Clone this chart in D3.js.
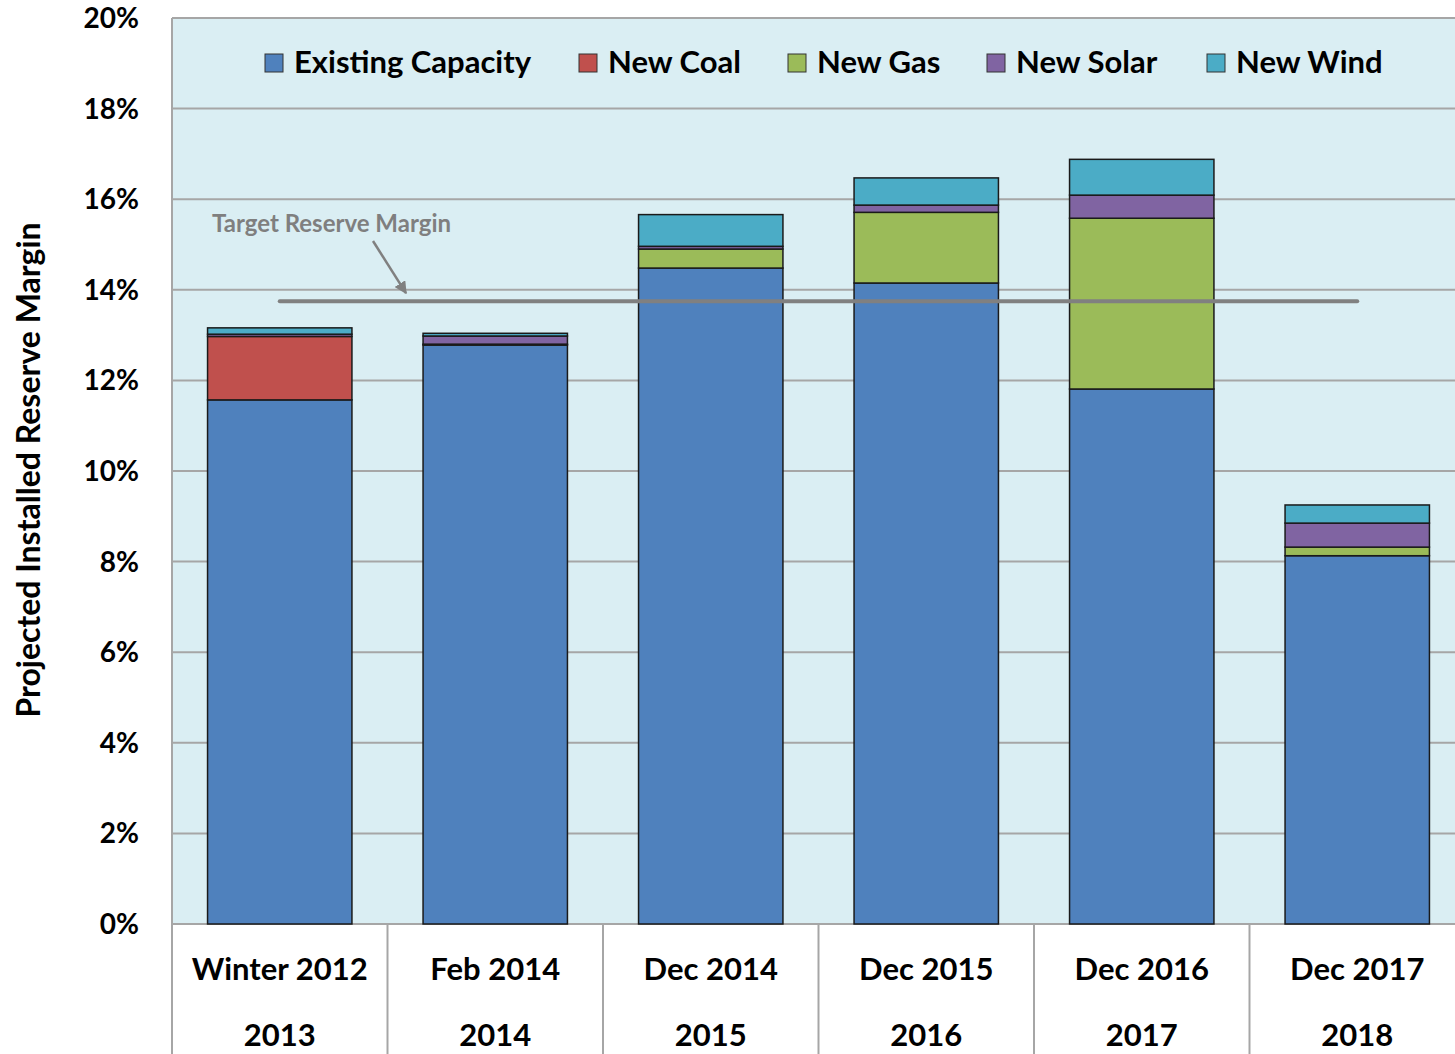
<!DOCTYPE html>
<html>
<head>
<meta charset="utf-8">
<script src="https://cdn.jsdelivr.net/npm/d3@7"></script>
<style>
  body { margin: 0; background: #fff; }
  svg { display: block; font-family: Lato, "Open Sans", sans-serif; }
</style>
</head>
<body>
<svg id="chart" width="1455" height="1054"></svg>
<script>
// categories, two-line labels
var periods = ['Winter 2012|2013', 'Feb 2014|2014', 'Dec 2014|2015', 'Dec 2015|2016', 'Dec 2016|2017', 'Dec 2017|2018'];

// series values in percent
var existingCap = [11.57, 12.78, 14.48, 14.15, 11.81, 8.13];
var newCoal     = [1.40, 0, 0, 0, 0, 0];
var newGas      = [0, 0.02, 0.42, 1.56, 3.77, 0.19];
var newSolar    = [0.05, 0.18, 0.06, 0.16, 0.51, 0.53];
var newWind     = [0.14, 0.06, 0.70, 0.60, 0.79, 0.40];

var seriesNames = ['Existing Capacity', 'New Coal', 'New Gas', 'New Solar', 'New Wind'];
var seriesColors = ['#4F81BD', '#C0504D', '#9BBB59', '#8064A2', '#4BACC6'];
var yTicks = [0, 2, 4, 6, 8, 10, 12, 14, 16, 18, 20];
var targetMargin = 13.75;

var svg = d3.select('#chart');
var plotL = 172, plotR = 1465, plotT = 18, plotB = 924;

var rows = periods.map(function(p, i) {
    return {
        period: p,
        'Existing Capacity': existingCap[i],
        'New Coal': newCoal[i],
        'New Gas': newGas[i],
        'New Solar': newSolar[i],
        'New Wind': newWind[i]
    };
});

var x = d3.scaleBand().domain(periods).range([plotL, plotR]).paddingInner(0).paddingOuter(0);
var y = d3.scaleLinear().domain([0, 20]).range([plotB, plotT]);
var color = d3.scaleOrdinal().domain(seriesNames).range(seriesColors);

// plot background
svg.append('rect')
    .attr('x', plotL).attr('y', plotT)
    .attr('width', plotR - plotL).attr('height', plotB - plotT)
    .attr('fill', '#DAEEF3');

// gridlines
svg.append('g')
    .selectAll('line')
    .data(yTicks)
    .enter().append('line')
    .attr('x1', plotL).attr('x2', plotR)
    .attr('y1', function(d) { return y(d); })
    .attr('y2', function(d) { return y(d); })
    .attr('stroke', '#A6A6A6')
    .attr('stroke-width', 2);

// frame left
svg.append('line').attr('x1', plotL).attr('x2', plotL).attr('y1', plotT).attr('y2', 1054)
    .attr('stroke', '#A6A6A6').attr('stroke-width', 2);

// y tick labels
svg.append('g')
    .selectAll('text')
    .data(yTicks)
    .enter().append('text')
    .attr('x', 139)
    .attr('y', function(d) { return y(d) + 10; })
    .attr('text-anchor', 'end')
    .attr('font-size', 28)
    .attr('font-weight', 'bold')
    .attr('fill', '#000')
    .text(function(d) { return d + '%'; });

// y axis title
svg.append('text')
    .attr('transform', 'translate(40,470) rotate(-90)')
    .attr('text-anchor', 'middle')
    .attr('font-size', 32)
    .attr('font-weight', 'bold')
    .attr('fill', '#000')
    .text('Projected Installed Reserve Margin');

// stacked bars
var stack = d3.stack().keys(seriesNames);
var layers = stack(rows);
var barW = x.bandwidth() * 0.67;

svg.append('g')
    .selectAll('g')
    .data(layers)
    .enter().append('g')
    .attr('fill', function(d) { return color(d.key); })
    .selectAll('rect')
    .data(function(d) { return d; })
    .enter().append('rect')
    .attr('x', function(d) { return x(d.data.period) + (x.bandwidth() - barW) / 2; })
    .attr('y', function(d) { return y(d[1]); })
    .attr('width', barW)
    .attr('height', function(d) { return y(d[0]) - y(d[1]); })
    .attr('stroke', '#1a1a1a')
    .attr('stroke-width', function(d) { return d[1] - d[0] > 0 ? 1.5 : 0; });

// category separators below axis
svg.append('g')
    .selectAll('line')
    .data(periods.slice(1))
    .enter().append('line')
    .attr('x1', function(d) { return x(d); })
    .attr('x2', function(d) { return x(d); })
    .attr('y1', plotB).attr('y2', 1054)
    .attr('stroke', '#A6A6A6').attr('stroke-width', 2);

// x labels
var xl = svg.append('g')
    .selectAll('text')
    .data(periods)
    .enter().append('text')
    .attr('text-anchor', 'middle')
    .attr('font-size', 31)
    .attr('font-weight', 'bold')
    .attr('fill', '#000');
xl.append('tspan')
    .attr('x', function(d) { return x(d) + x.bandwidth() / 2; })
    .attr('y', 980)
    .text(function(d) { return d.split('|')[0]; });
xl.append('tspan')
    .attr('x', function(d) { return x(d) + x.bandwidth() / 2; })
    .attr('y', 1046)
    .text(function(d) { return d.split('|')[1]; });

// target reserve margin line
var firstC = x(periods[0]) + x.bandwidth() / 2;
var lastC = x(periods[periods.length - 1]) + x.bandwidth() / 2;
svg.append('line')
    .attr('x1', firstC).attr('x2', lastC)
    .attr('y1', y(targetMargin)).attr('y2', y(targetMargin))
    .attr('stroke', '#808080')
    .attr('stroke-width', 4)
    .attr('stroke-linecap', 'round');

// annotation
svg.append('defs').append('marker')
    .attr('id', 'arr')
    .attr('viewBox', '0 0 10 10')
    .attr('refX', 9).attr('refY', 5)
    .attr('markerWidth', 5).attr('markerHeight', 5)
    .attr('orient', 'auto')
    .append('path').attr('d', 'M0,0 L10,5 L0,10 z').attr('fill', '#808080');

svg.append('text')
    .attr('x', 212).attr('y', 232)
    .attr('font-size', 24)
    .attr('font-weight', 'bold')
    .attr('fill', '#7F7F7F')
    .text('Target Reserve Margin');

svg.append('line')
    .attr('x1', 373).attr('y1', 241)
    .attr('x2', 406).attr('y2', y(targetMargin) - 8)
    .attr('stroke', '#808080')
    .attr('stroke-width', 2.5)
    .attr('marker-end', 'url(#arr)');

// legend
var legendX = [265, 579, 788, 987, 1207];
var lg = svg.append('g')
    .selectAll('g')
    .data(seriesNames)
    .enter().append('g')
    .attr('transform', function(d, i) { return 'translate(' + legendX[i] + ',54)'; });
lg.append('rect')
    .attr('width', 18).attr('height', 18)
    .attr('fill', function(d) { return color(d); })
    .attr('stroke', '#333').attr('stroke-width', 1);
lg.append('text')
    .attr('x', 29).attr('y', 19)
    .attr('font-size', 31)
    .attr('font-weight', 'bold')
    .attr('fill', '#000')
    .text(function(d) { return d; });
</script>
</body>
</html>
